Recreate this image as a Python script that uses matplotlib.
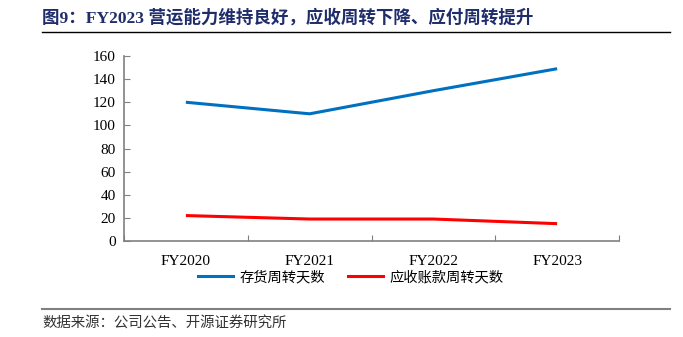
import matplotlib
matplotlib.use("Agg")
import matplotlib.pyplot as plt
from matplotlib.lines import Line2D

categories = ["FY2020", "FY2021", "FY2022", "FY2023"]
inventory_days = [120, 110, 130, 149]
receivable_days = [22, 19, 19, 15]
series_names = ["存货周转天数", "应收账款周转天数"]
title = "图9：FY2023 营运能力维持良好，应收周转下降、应付周转提升"
source = "数据来源：公司公告、开源证券研究所"

plt.rcParams['font.family'] = ['Liberation Serif', 'Noto Sans CJK SC']

fig = plt.figure(figsize=(6.83, 3.37), dpi=100)
W, H = 683, 337
ax = fig.add_axes([124 / W, 1 - 241 / H, (619 - 124) / W, (241 - 56) / H])

x = list(range(len(categories)))
ax.plot(x, inventory_days, color="#0070C0", lw=2.2, solid_capstyle="butt")
ax.plot(x, receivable_days, color="#FF0000", lw=2.2, solid_capstyle="butt")

ax.set_xlim(-0.5, len(categories) - 0.5)
ax.set_ylim(0, 160)
ax.set_yticks(range(0, 161, 20))
ax.set_xticks([i + 0.5 for i in range(-1, len(categories))], minor=False)
ax.set_xticklabels([])
ax.set_xticks(x, minor=True)
ax.set_xticklabels(categories, minor=True)
ax.tick_params(axis="x", which="major", length=4, color="#808080", direction="in")
ax.tick_params(axis="x", which="minor", length=0, pad=10, labelsize=11)
ax.tick_params(axis="y", length=4, color="#808080", direction="in", labelsize=11, pad=6)
for s in ["top", "right"]:
    ax.spines[s].set_visible(False)
for s in ["left", "bottom"]:
    ax.spines[s].set_color("#808080")
    ax.spines[s].set_linewidth(1.2)

handles = [Line2D([0], [0], color="#0070C0", lw=2.2),
           Line2D([0], [0], color="#FF0000", lw=2.2)]
leg = fig.legend(handles, series_names, loc="center", bbox_to_anchor=(351 / W, 1 - 277 / H),
                 ncol=2, frameon=False, handlelength=2.4, handletextpad=0.5,
                 columnspacing=1.6,
                 prop={"family": "Noto Sans CJK SC", "size": 10.3})

fig.text(42 / W, 1 - 18 / H, title, fontsize=12.6, fontweight="bold", color="#1F2D6B",
         va="center", ha="left", family=["Liberation Serif", "Noto Sans CJK SC"])
fig.add_artist(Line2D([42 / W, 670 / W], [1 - 32 / H, 1 - 32 / H], color="black", lw=1))
fig.add_artist(Line2D([42 / W, 670 / W], [1 - 309 / H, 1 - 309 / H], color="#808080", lw=1.5))
fig.text(42 / W, 1 - 323 / H, source, fontsize=10.4, color="#333333", va="center", ha="left",
         family=["Noto Sans CJK SC"])

fig.savefig("out.png", dpi=100)
